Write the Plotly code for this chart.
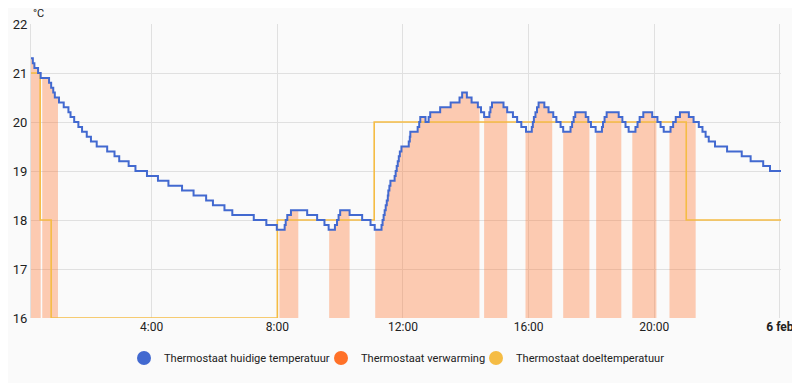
import plotly.graph_objects as go
from datetime import datetime, timedelta

DAY = "2024-02-05"
RANGE_START = "00:09:30"
RANGE_END = "24:02"

# Current temperature (step changes): time, °C
temp_times = [
    "00:09", "00:13", "00:16", "00:23", "00:28", "00:44", "00:48", "00:52", "00:55", "01:03",
    "01:12", "01:21", "01:25", "01:32", "01:40", "01:47", "01:56", "02:04", "02:15", "02:35",
    "02:49", "02:58", "03:16", "03:29", "03:51", "04:12", "04:32", "04:58", "05:20", "05:44",
    "05:57", "06:19", "06:34", "07:15", "07:39", "07:59",
    "08:14", "08:16", "08:19", "08:26", "08:57", "09:16", "09:30", "09:38", "09:50", "09:54",
    "09:57", "10:00", "10:18", "10:42", "10:58", "11:06",
    "11:19", "11:21", "11:23", "11:25", "11:27", "11:29", "11:31", "11:32", "11:34", "11:36",
    "11:44", "11:46", "11:48", "11:50", "11:52", "11:54", "11:57", "12:11", "12:13", "12:14",
    "12:28", "12:31", "12:33", "12:43", "12:49", "12:52", "13:11", "13:31", "13:48", "13:53",
    "14:02", "14:11", "14:23", "14:29", "14:35", "14:45", "14:47", "14:50", "15:12", "15:19",
    "15:30", "15:38", "15:46", "15:55",
    "16:06", "16:08", "16:10", "16:13", "16:16", "16:19", "16:30", "16:38", "16:47", "16:53",
    "17:01", "17:06", "17:20", "17:23", "17:26", "17:29", "17:49", "17:54", "17:59", "18:08",
    "18:20", "18:22", "18:25", "18:29", "18:52", "18:59", "19:05", "19:11", "19:24", "19:28",
    "19:32", "19:39", "19:56", "20:06", "20:12", "20:18", "20:31", "20:36", "20:41", "20:49",
    "21:06", "21:15", "21:25", "21:32", "21:38", "21:44", "21:56", "22:19", "22:47", "23:04",
    "23:28", "23:41", "24:02",
]
temp_values = [
    21.3, 21.2, 21.1, 21.0, 20.9, 20.8, 20.7, 20.6, 20.5, 20.4,
    20.3, 20.2, 20.1, 20.0, 19.9, 19.8, 19.7, 19.6, 19.5, 19.4,
    19.3, 19.2, 19.1, 19.0, 18.9, 18.8, 18.7, 18.6, 18.5, 18.4,
    18.3, 18.2, 18.1, 18.0, 17.9, 17.8,
    17.9, 18.0, 18.1, 18.2, 18.1, 18.0, 17.9, 17.8, 17.9, 18.0,
    18.1, 18.2, 18.1, 18.0, 17.9, 17.8,
    17.9, 18.0, 18.1, 18.2, 18.3, 18.4, 18.5, 18.6, 18.7, 18.8,
    18.9, 19.0, 19.1, 19.2, 19.3, 19.4, 19.5, 19.6, 19.7, 19.8,
    19.9, 20.0, 20.1, 20.0, 20.1, 20.2, 20.3, 20.4, 20.5, 20.6,
    20.5, 20.4, 20.3, 20.2, 20.1, 20.2, 20.3, 20.4, 20.3, 20.2,
    20.1, 20.0, 19.9, 19.8,
    19.9, 20.0, 20.1, 20.2, 20.3, 20.4, 20.3, 20.2, 20.1, 20.0,
    19.9, 19.8, 19.9, 20.0, 20.1, 20.2, 20.1, 20.0, 19.9, 19.8,
    19.9, 20.0, 20.1, 20.2, 20.1, 20.0, 19.9, 19.8, 19.9, 20.0,
    20.1, 20.2, 20.1, 20.0, 19.9, 19.8, 19.9, 20.0, 20.1, 20.2,
    20.1, 20.0, 19.9, 19.8, 19.7, 19.6, 19.5, 19.4, 19.3, 19.2,
    19.1, 19.0, 19.0,
]

# Target temperature (step changes)
target_times = ["00:09", "00:27", "00:48", "08:00", "11:05", "21:01", "24:02"]
target_values = [21.0, 18.0, 16.0, 18.0, 20.0, 18.0, 18.0]

# Heating active periods (start, end)
heating_starts = ["00:09", "00:31", "08:04", "09:39", "11:07", "14:35", "15:54", "17:06", "18:09", "19:18", "20:29"]
heating_ends = ["00:28", "01:01", "08:40", "10:18", "14:26", "15:19", "16:45", "17:56", "18:57", "20:04", "21:19"]

# Axis ticks
y_ticks = [16, 17, 18, 19, 20, 21, 22]
x_tick_times = ["04:00", "08:00", "12:00", "16:00", "20:00", "24:00"]
x_tick_labels = ["4:00", "8:00", "12:00", "16:00", "20:00", "<b>6 feb</b>"]

# Legend
legend_names = ["Thermostaat huidige temperatuur", "Thermostaat verwarming", "Thermostaat doeltemperatuur"]

BLUE = "#4269d0"
ORANGE = "#ff7128"
YELLOW = "#f5bc44"
FILL = "rgba(255,112,40,0.35)"
GRID = "#e0e0e0"
FONT = "Roboto"
TEXT = "#212121"


def to_dt(s):
    parts = [int(p) for p in s.split(":")]
    h, m = parts[0], parts[1]
    sec = parts[2] if len(parts) > 2 else 0
    return datetime.fromisoformat(DAY) + timedelta(hours=h, minutes=m, seconds=sec)


tx = [to_dt(t) for t in temp_times]
gx = [to_dt(t) for t in target_times]


def temp_at(t):
    v = temp_values[0]
    for ti, vi in zip(tx, temp_values):
        if ti <= t:
            v = vi
        else:
            break
    return v


fig = go.Figure()

# Heating fill: one filled segment per heating period, following the temperature steps
for s, e in zip(heating_starts, heating_ends):
    ts, te = to_dt(s), to_dt(e)
    hx, hy = [ts], [temp_at(ts)]
    for ti, vi in zip(tx, temp_values):
        if ts < ti < te:
            hx.append(ti)
            hy.append(vi)
    hx.append(te)
    hy.append(temp_at(te))
    fig.add_trace(go.Scatter(
        x=hx, y=hy, mode="lines", line=dict(width=0, shape="hv", color=FILL),
        fill="tozeroy", fillcolor=FILL, showlegend=False, hoverinfo="skip",
    ))

fig.add_trace(go.Scatter(
    x=gx, y=target_values, mode="lines", line=dict(color=YELLOW, width=1.6, shape="hv"),
    showlegend=False,
))
fig.add_trace(go.Scatter(
    x=tx, y=temp_values, mode="lines", line=dict(color=BLUE, width=2, shape="hv"),
    showlegend=False,
))

# Legend entries (circle markers)
for name, col, lw in zip(legend_names, [BLUE, ORANGE, YELLOW], [152, 110, 150]):
    fig.add_trace(go.Scatter(
        x=[None], y=[None], mode="markers", name=name, legendwidth=lw,
        marker=dict(color=col, size=14, symbol="circle"),
    ))

# The page body has an 8px margin, so the figure is sized to fit inside the window
fig.update_layout(
    width=792, height=375,
    margin=dict(l=23, r=19, t=16, b=65, autoexpand=False),
    paper_bgcolor="#fafafa", plot_bgcolor="#fafafa",
    font=dict(family=FONT, size=12, color=TEXT),
    showlegend=True,
    legend=dict(orientation="h", x=(124 - 31) / 750, xanchor="left",
                y=-0.136, yanchor="middle", font=dict(size=11.1, color=TEXT),
                itemsizing="trace", bgcolor="rgba(0,0,0,0)", traceorder="normal"),
    annotations=[dict(text="°C", xref="paper", yref="paper", x=0, y=1,
                      xanchor="left", yanchor="bottom", yshift=2, showarrow=False,
                      font=dict(size=11, color=TEXT))],
)
fig.update_xaxes(
    type="date", range=[to_dt(RANGE_START), to_dt(RANGE_END)],
    tickvals=[to_dt(t) for t in x_tick_times], ticktext=x_tick_labels,
    showgrid=True, gridcolor=GRID, gridwidth=1, zeroline=False,
    showline=False, ticks="", tickfont=dict(size=12, color=TEXT),
)
fig.update_yaxes(
    range=[16, 22], tickvals=y_ticks, showgrid=True, gridcolor=GRID, gridwidth=1,
    zeroline=False, showline=True, linecolor=GRID, ticks="", tickfont=dict(size=13, color=TEXT),
)

fig.write_html("out.html")
